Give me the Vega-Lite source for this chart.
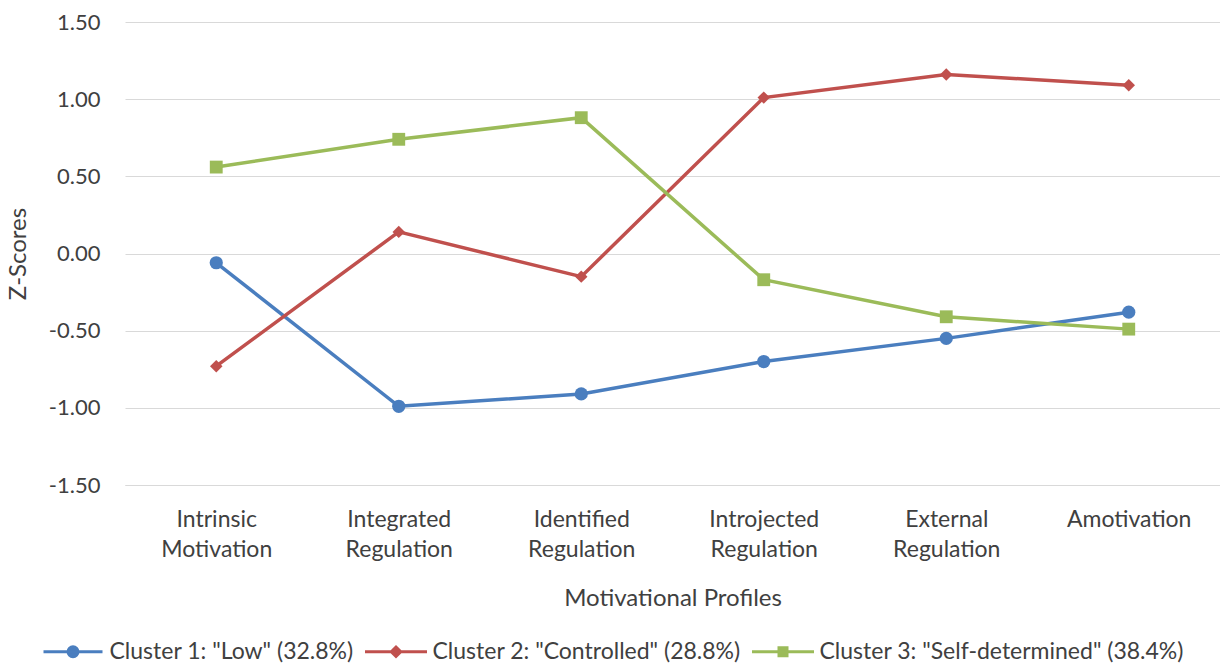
{
  "$schema": "https://vega.github.io/schema/vega-lite/v6.json",
  "autosize": {"type": "none"},
  "width": 1095,
  "height": 463,
  "padding": {"left": 125, "top": 22, "right": 0, "bottom": 181},
  "background": "white",
  "config": {
    "font": "Lato",
    "view": {"stroke": null},
    "axis": {"labelColor": "#404040", "titleColor": "#404040", "labelFont": "Lato", "titleFont": "Lato", "titleFontWeight": "normal"}
  },
  "data": {
    "values": [
      {"profile": "Intrinsic Motivation", "cluster": "Cluster 1: \"Low\" (32.8%)", "z": -0.06},
      {"profile": "Integrated Regulation", "cluster": "Cluster 1: \"Low\" (32.8%)", "z": -0.99},
      {"profile": "Identified Regulation", "cluster": "Cluster 1: \"Low\" (32.8%)", "z": -0.91},
      {"profile": "Introjected Regulation", "cluster": "Cluster 1: \"Low\" (32.8%)", "z": -0.70},
      {"profile": "External Regulation", "cluster": "Cluster 1: \"Low\" (32.8%)", "z": -0.55},
      {"profile": "Amotivation", "cluster": "Cluster 1: \"Low\" (32.8%)", "z": -0.38},
      {"profile": "Intrinsic Motivation", "cluster": "Cluster 2: \"Controlled\" (28.8%)", "z": -0.73},
      {"profile": "Integrated Regulation", "cluster": "Cluster 2: \"Controlled\" (28.8%)", "z": 0.14},
      {"profile": "Identified Regulation", "cluster": "Cluster 2: \"Controlled\" (28.8%)", "z": -0.15},
      {"profile": "Introjected Regulation", "cluster": "Cluster 2: \"Controlled\" (28.8%)", "z": 1.01},
      {"profile": "External Regulation", "cluster": "Cluster 2: \"Controlled\" (28.8%)", "z": 1.16},
      {"profile": "Amotivation", "cluster": "Cluster 2: \"Controlled\" (28.8%)", "z": 1.09},
      {"profile": "Intrinsic Motivation", "cluster": "Cluster 3: \"Self-determined\" (38.4%)", "z": 0.56},
      {"profile": "Integrated Regulation", "cluster": "Cluster 3: \"Self-determined\" (38.4%)", "z": 0.74},
      {"profile": "Identified Regulation", "cluster": "Cluster 3: \"Self-determined\" (38.4%)", "z": 0.88},
      {"profile": "Introjected Regulation", "cluster": "Cluster 3: \"Self-determined\" (38.4%)", "z": -0.17},
      {"profile": "External Regulation", "cluster": "Cluster 3: \"Self-determined\" (38.4%)", "z": -0.41},
      {"profile": "Amotivation", "cluster": "Cluster 3: \"Self-determined\" (38.4%)", "z": -0.49}
    ]
  },
  "encoding": {
    "x": {
      "field": "profile",
      "type": "nominal",
      "sort": ["Intrinsic Motivation", "Integrated Regulation", "Identified Regulation", "Introjected Regulation", "External Regulation", "Amotivation"],
      "scale": {"type": "point", "padding": 0.5},
      "axis": {
        "title": "Motivational Profiles",
        "titleFontSize": 24,
        "titlePadding": 25,
        "labelFontSize": 23,
        "labelAngle": 0,
        "labelExpr": "split(datum.label, ' ')",
        "labelLineHeight": 30,
        "labelBaseline": "top",
        "labelPadding": 23,
        "ticks": false,
        "domain": true,
        "domainColor": "#d9d9d9",
        "domainWidth": 1,
        "grid": false
      }
    },
    "y": {
      "field": "z",
      "type": "quantitative",
      "scale": {"domain": [-1.5, 1.5], "nice": false},
      "axis": {
        "title": "Z-Scores",
        "titleFontSize": 24,
        "titlePadding": 18,
        "labelFontSize": 22,
        "labelPadding": 25,
        "values": [-1.5, -1, -0.5, 0, 0.5, 1, 1.5],
        "labelExpr": "replace(format(datum.value, '.2f'), '\u2212', '-')",
        "ticks": false,
        "domain": false,
        "grid": true,
        "gridColor": "#d9d9d9",
        "gridWidth": 1
      }
    },
    "color": {
      "field": "cluster",
      "type": "nominal",
      "scale": {
        "domain": ["Cluster 1: \"Low\" (32.8%)", "Cluster 2: \"Controlled\" (28.8%)", "Cluster 3: \"Self-determined\" (38.4%)"],
        "range": ["#4a7ebf", "#c0504d", "#9bbb59"]
      },
      "legend": {
        "orient": "none",
        "legendX": -63.5,
        "legendY": 618,
        "padding": 0,
        "direction": "horizontal",
        "title": null,
        "labelFontSize": 23,
        "labelColor": "#404040",
        "labelFont": "Lato",
        "labelLimit": 500,
        "symbolSize": 100,
        "symbolStrokeWidth": 3,
        "labelOffset": 25,
        "columnPadding": 4,
        "encode": {
          "symbols": {
            "update": {
              "shape": {"signal": "datum.index == 0 ? 'M-5.9,0L5.9,0M-1,0A1,1 0 1,0 1,0A1,1 0 1,0 -1,0Z' : datum.index == 1 ? 'M-6.2,0L6.2,0M-0.95,0L0,-0.95L0.95,0L0,0.95Z' : 'M-6.2,0L6.2,0M-0.8,-0.8L0.8,-0.8L0.8,0.8L-0.8,0.8Z'"},
              "fill": {"scale": "color", "field": "value"},
              "stroke": {"scale": "color", "field": "value"},
              "strokeWidth": {"value": 3},
              "opacity": {"value": 1},
              "fillOpacity": {"value": 1},
              "strokeOpacity": {"value": 1}
            }
          }
        }
      }
    }
  },
  "layer": [
    {"mark": {"type": "line", "strokeWidth": 3.5}},
    {
      "transform": [{"filter": {"field": "cluster", "equal": "Cluster 1: \"Low\" (32.8%)"}}],
      "mark": {"type": "point", "shape": "circle", "filled": true, "opacity": 1, "size": 175}
    },
    {
      "transform": [{"filter": {"field": "cluster", "equal": "Cluster 2: \"Controlled\" (28.8%)"}}],
      "mark": {"type": "point", "shape": "diamond", "filled": true, "opacity": 1, "size": 155}
    },
    {
      "transform": [{"filter": {"field": "cluster", "equal": "Cluster 3: \"Self-determined\" (38.4%)"}}],
      "mark": {"type": "point", "shape": "square", "filled": true, "opacity": 1, "size": 165}
    }
  ]
}
